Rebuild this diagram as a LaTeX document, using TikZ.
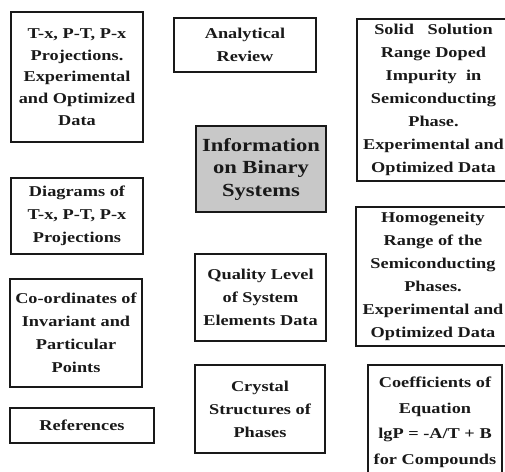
\documentclass[tikz,border=0pt]{standalone}
\usepackage{fontspec}
\setmainfont{Liberation Serif}[FakeStretch=1.22]
\definecolor{boxgray}{RGB}{200,200,200}
\definecolor{ink}{RGB}{25,25,25}

\begin{document}
\begin{tikzpicture}[x=1pt, y=-1pt,
box/.style={draw=ink, line width=2.2pt, align=center, inner sep=0pt, text=ink, font=\bfseries\fontsize{15}{23}\selectfont},
mainbox/.style={box, fill=boxgray, font=\bfseries\fontsize{18.5}{22.5}\selectfont}]
\useasboundingbox (0,0) rectangle (505,471);
\clip (0,0) rectangle (505,471);
% left column
\node[box, minimum width=132pt, minimum height=130pt, font=\bfseries\fontsize{15}{21.7}\selectfont] (proj) at (77,77) {T-x, P-T, P-x\\Projections.\\Experimental\\and Optimized\\Data};
\node[box, minimum width=132pt, minimum height=76pt] (diag) at (77,216) {Diagrams of\\T-x, P-T, P-x\\Projections};
\node[box, minimum width=132pt, minimum height=108pt] (coord) at (76,333) {Co-ordinates of\\Invariant and\\Particular\\Points};
\node[box, minimum width=144pt, minimum height=35pt] (refs) at (82,425.5) {References};
% middle column
\node[box, minimum width=142pt, minimum height=54pt] (review) at (245,45) {Analytical\\Review};
\node[mainbox, minimum width=130pt, minimum height=86pt] (info) at (261,169) {Information\\on Binary\\Systems};
\node[box, minimum width=131pt, minimum height=87pt] (quality) at (260.5,297.5) {Quality Level\\of System\\Elements Data};
\node[box, minimum width=130pt, minimum height=88pt] (crystal) at (260,409) {Crystal\\Structures of\\Phases};
% right column
\node[box, minimum width=153pt, minimum height=162pt] (solid) at (433.5,100) {Solid\ \ \ Solution\\Range Doped\\Impurity\ \ in\\Semiconducting\\Phase.\\Experimental and\\Optimized Data};
\node[box, minimum width=154pt, minimum height=139pt] (homog) at (433,276.5) {Homogeneity\\Range of the\\Semiconducting\\Phases.\\Experimental and\\Optimized Data};
\node[box, minimum width=134pt, minimum height=115pt, font=\bfseries\fontsize{15}{25.5}\selectfont] (coef) at (435,422.5) {Coefficients of\\Equation\\lgP = -A/T + B\\for Compounds};
\end{tikzpicture}
\end{document}
